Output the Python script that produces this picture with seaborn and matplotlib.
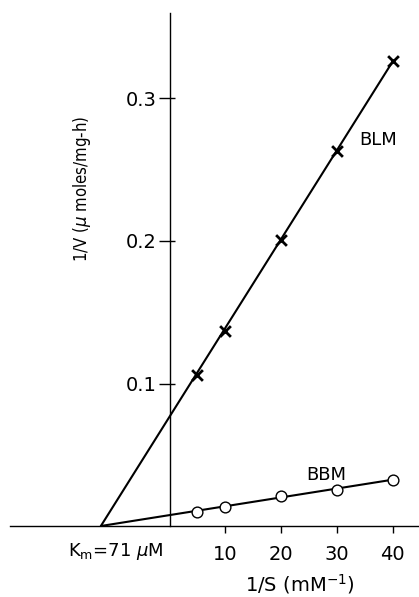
import matplotlib
matplotlib.use("Agg")
import matplotlib.pyplot as plt
import seaborn as sns
import pandas as pd

# ---- data ----
inv_s = [5, 10, 20, 30, 40]
blm_inv_v = [0.106, 0.137, 0.201, 0.263, 0.326]
bbm_inv_v = [0.010, 0.013, 0.021, 0.0255, 0.0323]
# fitted lines (through the common x-intercept -1/Km)
line_x = [-12.3, 40]
blm_line = [0.0, 0.326]
bbm_line = [0.0, 0.0325]
xticks = [10, 20, 30, 40]
yticks = [0.1, 0.2, 0.3]
ytick_labels = ["0.1", "0.2", "0.3"]

sns.set_style("white")
plt.rcParams["font.family"] = ["DejaVu Sans"]
plt.rcParams["text.color"] = "black"

fig = plt.figure(figsize=(4.19, 5.97), dpi=100)
ax = fig.add_axes([0, 0, 1, 1])
ax.patch.set_alpha(0)

# pixel mapping: x0 at 169.5 px, 5.58 px/unit; y0 at 526 px, 1425 px/unit
px0, sx = 169.5, 5.58
py0, sy = 526.0, 1425.0
ax.set_xlim(-px0 / sx, (419 - px0) / sx)
ax.set_ylim(-(597 - py0) / sy, py0 / sy)

df_pts = pd.DataFrame({"x": inv_s, "blm": blm_inv_v, "bbm": bbm_inv_v})
df_line = pd.DataFrame({"x": line_x, "blm": blm_line, "bbm": bbm_line})

sns.lineplot(data=df_line, x="x", y="blm", ax=ax, color="black", lw=1.5)
sns.lineplot(data=df_line, x="x", y="bbm", ax=ax, color="black", lw=1.5)
sns.scatterplot(data=df_pts, x="x", y="blm", ax=ax, marker="x", color="black",
                s=60, linewidth=2.0, zorder=5)
sns.scatterplot(data=df_pts, x="x", y="bbm", ax=ax, marker="o", facecolor="white",
                edgecolor="black", s=60, linewidth=1.0, zorder=5)

for s in ["top", "right"]:
    ax.spines[s].set_visible(False)
ax.spines["left"].set_position(("data", 0))
ax.spines["bottom"].set_position(("data", 0))
ax.spines["left"].set_bounds(0, (py0 - 13) / sy)
ax.spines["bottom"].set_bounds((10 - px0) / sx, (419 - px0) / sx)
for s in ["left", "bottom"]:
    ax.spines[s].set_linewidth(1.0)
    ax.spines[s].set_color("black")

ax.set_xticks(xticks)
ax.set_xticklabels([str(t) for t in xticks])
ax.set_yticks(yticks)
ax.set_yticklabels(ytick_labels)
ax.yaxis.remove_overlapping_locs = False
ax.set_yticks(yticks, minor=True)
ax.tick_params(axis="x", which="major", bottom=True, direction="out", length=5,
               width=1.0, pad=9, labelsize=14, colors="black")
ax.tick_params(axis="y", which="major", left=True, direction="out", length=8,
               width=1.0, pad=1, labelsize=14, colors="black")
ax.tick_params(axis="y", which="minor", left=True, direction="in", length=3.5,
               width=1.0, colors="black")
ax.set_xlabel("")
ax.set_ylabel("")

def dx(p):
    return (p - px0) / sx

def dy(p):
    return (py0 - p) / sy

ax.text(dx(300), dy(584), "1/S (mM$^{-1}$)", fontsize=14, ha="center", va="center")
ax.text(dx(82), dy(189), "1/V ($\\mu$ moles/mg-h)", fontsize=12, ha="center",
        va="center", rotation=90, fontstretch="condensed")
ax.text(dx(116), dy(551), "K$_\\mathrm{m}$=71 $\\mu$M", fontsize=13, ha="center",
        va="center")
ax.text(dx(359), dy(140), "BLM", fontsize=13, ha="left", va="center")
ax.text(dx(306), dy(475), "BBM", fontsize=13, ha="left", va="center")

fig.savefig("out.png", dpi=100)
